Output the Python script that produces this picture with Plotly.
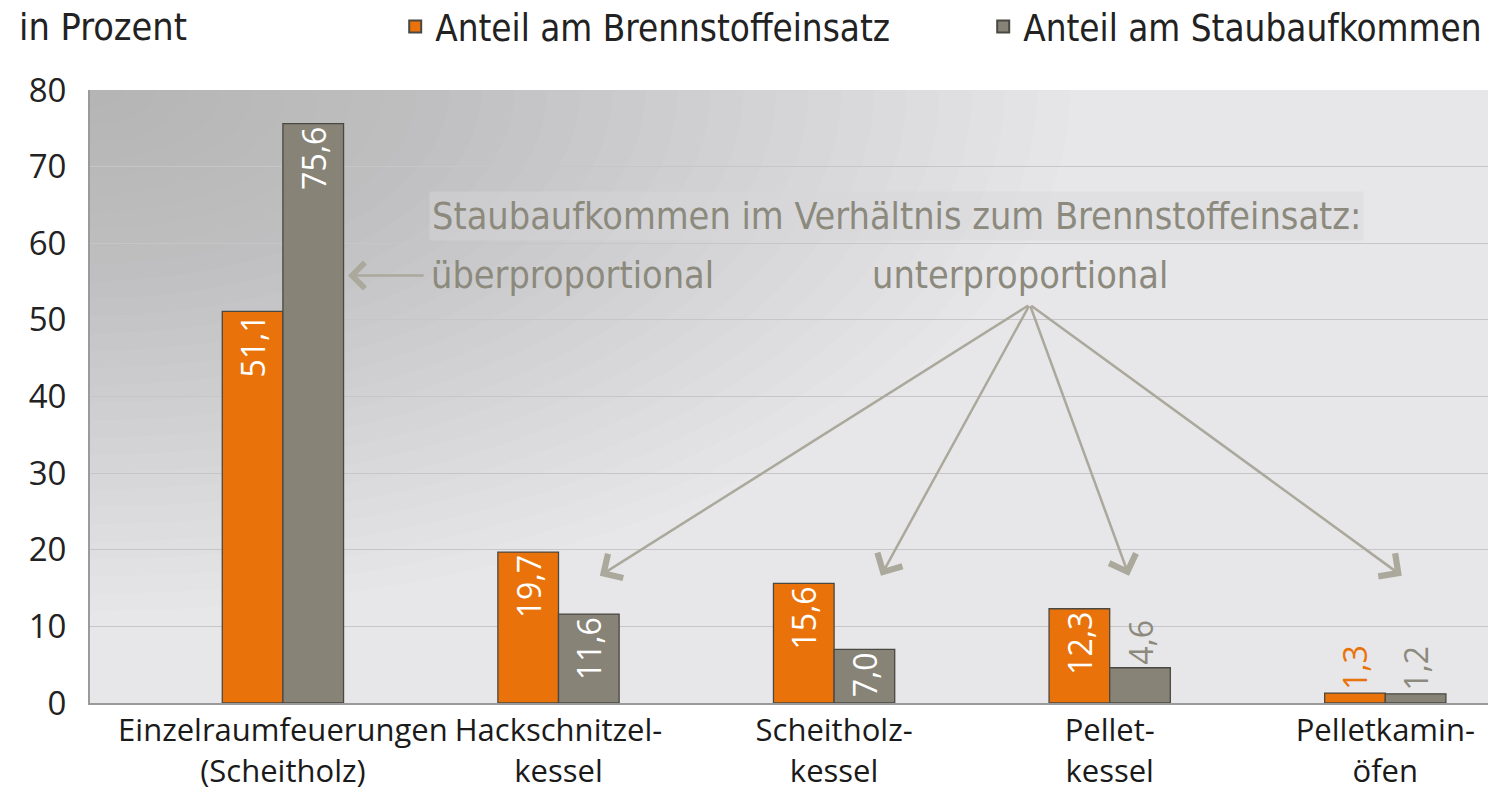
import plotly.graph_objects as go

categories = ["Einzelraumfeuerungen<br>(Scheitholz)", "Hackschnitzel-<br>kessel",
              "Scheitholz-<br>kessel", "Pellet-<br>kessel", "Pelletkamin-<br>öfen"]
brennstoff = [51.1, 19.7, 15.6, 12.3, 1.3]
staub = [75.6, 11.6, 7.0, 4.6, 1.2]
series_names = ["Anteil am Brennstoffeinsatz", "Anteil am Staubaufkommen"]
y_ticks = [0, 10, 20, 30, 40, 50, 60, 70, 80]

ORANGE = "#E9730A"
GREY = "#878377"
LABEL_GREY = "#8c897d"
ARROW = "#aba89c"
COND = "DejaVu Sans Condensed, Open Sans, sans-serif"
SANS = "Open Sans, Noto Sans, sans-serif"

XR = [-0.70, 4.38]
YR = [0, 80]

fig = go.Figure()
for i, (vals, name, col) in enumerate([(brennstoff, series_names[0], ORANGE), (staub, series_names[1], GREY)]):
    fig.add_trace(go.Bar(
        x=categories, y=vals, name=name,
        legend="legend" if i == 0 else "legend2",
        marker=dict(color=col, line=dict(color="#4a4842", width=1.3)),
        texttemplate="%{y:.1f}",
        textposition=["inside" if v >= 5 else "outside" for v in vals],
        insidetextanchor="end",
        textangle=-90,
        insidetextfont=dict(color="white", size=32, family=SANS),
        outsidetextfont=dict(color=(ORANGE if col == ORANGE else LABEL_GREY), size=32, family=SANS),
        cliponaxis=False,
    ))

# soft radial shading from the top-left corner of the plot area
shapes = []
n = 30
for k in range(n):
    f = 1 - k / n
    rx = (XR[1] - XR[0]) * 0.70 * f
    ry = (YR[1] - YR[0]) * 0.85 * f
    shapes.append(dict(type="circle", xref="x", yref="y", layer="below",
                       x0=XR[0] - rx, x1=XR[0] + rx, y0=YR[1] - ry, y1=YR[1] + ry,
                       fillcolor="#8a8a8e", opacity=0.016, line=dict(width=0)))

txt_font = dict(family=COND, size=37.5, color=LABEL_GREY)
annotations = [
    dict(text="in Prozent", xref="paper", yref="paper", x=-0.052, y=1.103,
         xanchor="left", yanchor="middle", showarrow=False,
         font=dict(family=COND, size=37.5, color="#222222")),
    dict(text="Staubaufkommen im Verhältnis zum Brennstoffeinsatz:", xref="x", yref="y",
         x=0.53, y=63.6, xanchor="left", yanchor="middle", showarrow=False,
         bgcolor="rgba(216,216,218,0.45)", borderpad=2, font=txt_font),
    dict(text="überproportional", xref="x", yref="y", x=0.53, y=55.8,
         xanchor="left", yanchor="middle", showarrow=False, font=txt_font),
    dict(text="unterproportional", xref="x", yref="y", x=2.13, y=55.8,
         xanchor="left", yanchor="middle", showarrow=False, font=txt_font),
    # left arrow
    dict(text="", xref="x", yref="y", axref="x", ayref="y",
         x=0.236, y=55.8, ax=0.516, ay=55.8, showarrow=True,
         arrowhead=4, arrowsize=2.0, arrowwidth=2.5, arrowcolor=ARROW),
]
tail = (2.71, 52.0)
for tx in [1.15, 2.17, 3.07, 4.06]:
    annotations.append(dict(text="", xref="x", yref="y", axref="x", ayref="y",
                            x=tx, y=16.6, ax=tail[0], ay=tail[1], showarrow=True,
                            arrowhead=4, arrowsize=2.2, arrowwidth=2.5, arrowcolor=ARROW))

leg_font = dict(family=COND, size=36.5, color="#222222")
fig.update_layout(
    width=1488, height=784,
    margin=dict(l=82, r=6, t=82, b=89),
    paper_bgcolor="white",
    plot_bgcolor="#e7e7e9",
    separators=",.",
    barmode="group", bargap=0.56, bargroupgap=0,
    shapes=shapes,
    annotations=annotations,
    showlegend=True,
    legend=dict(orientation="h", x=0.218, y=0.976, xanchor="left", yanchor="middle",
                yref="container", bgcolor="rgba(0,0,0,0)", font=leg_font, itemsizing="constant"),
    legend2=dict(orientation="h", x=0.638, y=0.976, xanchor="left", yanchor="middle",
                 yref="container", bgcolor="rgba(0,0,0,0)", font=leg_font, itemsizing="constant"),
    xaxis=dict(range=XR, showgrid=False, showline=True, linecolor="#9a9a9a", linewidth=2,
               ticks="", tickangle=0, ticklabelstandoff=-1,
               tickfont=dict(family=SANS, size=31, color="#1a1a1a"),
               mirror=False, zeroline=False, automargin=False),
    yaxis=dict(range=YR, tickvals=y_ticks, showgrid=True, gridcolor="#c6c6c8", gridwidth=1.2,
               showline=True, linecolor="#9a9a9a", linewidth=2, zeroline=False,
               ticks="", ticklabelstandoff=15, automargin=False,
               tickfont=dict(family=SANS, size=33, color="#222222")),
)

fig.write_html("out.html")
